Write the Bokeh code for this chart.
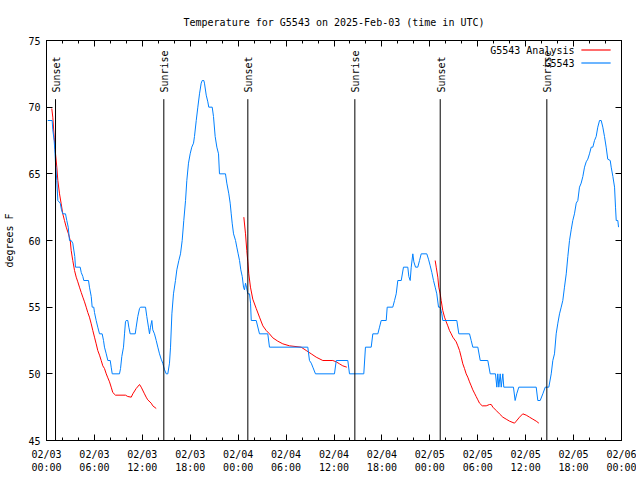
import datetime as dt
from bokeh.plotting import figure
from bokeh.models import (FixedTicker, DatetimeTickFormatter, DatetimeAxis, LinearAxis,
                          Range1d, Label, BoxAnnotation, ColumnDataSource, CustomJSTickFormatter)
from bokeh.core.properties import value
from bokeh.embed import file_html
from bokeh.resources import INLINE

TITLE = "Temperature for G5543 on 2025-Feb-03 (time in UTC)"
START = dt.datetime(2025, 2, 3, 0, 0)
END = dt.datetime(2025, 2, 6, 0, 0)

# Observed temperature (hours after 02/03 00:00 UTC, degrees F)
obs_hours = [0.16, 0.71, 0.79, 0.96, 1.04, 1.13, 1.29, 1.42, 1.72, 1.88, 2.04, 2.38, 2.54, 2.72, 2.88,
             3.09, 3.29, 3.54, 3.63, 4.22, 4.35, 4.55, 4.67, 5.26, 5.38, 5.60, 5.72, 5.92, 6.01, 6.22,
             6.42, 6.64, 6.97, 7.14, 7.26, 7.48, 7.68, 7.98, 8.10, 8.23, 9.14, 9.27, 9.43, 9.64, 9.77,
             9.89, 9.98, 10.18, 10.31, 10.48, 11.11, 11.23, 11.43, 11.65, 11.77, 12.40, 12.56, 12.77,
             12.90, 13.02, 13.19, 13.31, 13.52, 13.74, 13.94, 14.15, 14.36, 14.56, 14.78, 14.99, 15.19,
             15.40, 15.53, 15.70, 15.90, 16.15, 16.32, 16.57, 16.78, 16.99, 17.19, 17.41, 17.57, 17.78,
             17.99, 18.19, 18.41, 18.53, 18.75, 18.95, 19.16, 19.37, 19.50, 19.70, 19.78, 20.00, 20.20,
             20.32, 20.75, 20.91, 21.12, 21.33, 21.54, 21.66, 22.41, 22.58, 22.83, 23.00, 23.13, 23.25,
             23.42, 23.67, 23.83, 24.00, 24.17, 24.33, 24.51, 24.67, 24.79, 24.92, 25.04, 25.21, 25.42,
             25.55, 25.64, 26.26, 26.67, 27.71, 27.92, 32.72, 32.93, 33.15, 33.35, 33.68, 36.06, 36.28,
             37.73, 37.94, 39.73, 39.94, 40.66, 40.86, 41.49, 41.70, 41.91, 42.54, 42.66, 43.36, 43.58,
             43.79, 43.99, 44.42, 44.70, 45.24, 45.37, 45.54, 45.67, 45.87, 46.00, 46.21, 46.49, 46.71,
             46.92, 47.62, 47.83, 48.05, 48.25, 48.46, 48.67, 48.87, 49.09, 49.30, 49.50, 49.62, 51.38,
             51.63, 52.97, 53.18, 53.38, 54.01, 54.31, 55.26, 55.56, 56.22, 56.39, 56.51, 56.64, 56.81,
             56.94, 57.14, 57.26, 58.47, 58.68, 58.88, 59.14, 61.32, 61.52, 61.82, 62.15, 62.45, 62.90,
             63.20, 63.40, 63.61, 63.82, 64.03, 64.24, 64.45, 64.65, 64.86, 65.08, 65.28, 65.49, 65.70,
             65.90, 66.11, 66.33, 66.53, 66.74, 66.95, 67.16, 67.37, 67.58, 67.78, 67.99, 68.21, 68.41,
             68.62, 68.83, 69.03, 69.25, 69.46, 69.66, 69.87, 70.08, 70.28, 70.59, 70.71, 70.92, 71.13,
             71.25, 71.34, 71.54, 71.63]
obs_temp = [69.0, 69.0, 68.3, 67.5, 66.8, 65.8, 64.5, 63.0, 62.8, 62.3, 62.0, 62.0, 61.5, 61.0, 60.0,
            60.0, 59.8, 58.8, 58.0, 58.0, 57.6, 57.3, 57.0, 57.0, 56.5, 55.8, 55.0, 55.0, 54.6, 54.0,
            53.5, 53.0, 53.0, 52.5, 52.0, 51.5, 51.0, 51.0, 50.5, 50.0, 50.0, 50.4, 51.3, 52.0, 53.0,
            53.9, 54.0, 54.0, 53.5, 53.0, 53.0, 53.5, 54.3, 54.9, 55.0, 55.0, 54.3, 53.5,
            53.0, 53.5, 54.0, 53.3, 53.0, 52.5, 52.0, 51.5, 51.1, 50.8, 50.3, 50.0, 50.0,
            50.8, 52.0, 54.5, 56.0, 57.0, 57.8, 58.5, 59.0, 60.0, 61.5, 63.0, 64.5, 65.8,
            66.5, 67.0, 67.3, 67.8, 69.0, 70.0, 71.0, 71.8, 72.0, 72.0, 71.8, 70.9, 70.4,
            70.0, 70.0, 69.3, 67.8, 67.0, 66.5, 65.0, 65.0, 64.3, 63.5, 62.8, 62.0, 61.3,
            60.5, 60.0, 59.5, 59.0, 58.5, 57.8, 57.3, 56.5, 56.3, 56.8, 56.5, 56.0, 56.0,
            55.3, 54.0, 54.0, 53.0, 53.0, 52.0, 52.0, 51.0, 50.8, 50.5, 50.0, 50.0, 51.0,
            51.0, 50.0, 50.0, 52.0, 52.0, 53.0, 53.0, 53.5, 54.0, 54.0, 55.0, 55.0, 55.5,
            56.0, 57.0, 57.0, 58.0, 58.0, 57.3, 57.0, 58.0, 59.0, 58.4, 58.0, 58.0, 58.5,
            59.0, 59.0, 58.6, 58.1, 57.6, 57.0, 56.5, 56.0, 55.0, 55.0, 54.5, 54.0, 54.0,
            53.0, 53.0, 52.5, 52.0, 52.0, 51.0, 51.0, 50.0, 50.0, 49.0, 50.0, 49.0, 50.0,
            49.0, 50.0, 49.0, 49.0, 48.0, 48.5, 49.0, 49.0, 48.0, 48.0, 48.5, 49.0, 49.0,
            50.0, 51.0, 51.5, 53.0, 53.8, 54.5, 55.0, 55.5, 56.5, 57.5, 58.8, 60.0, 60.8,
            61.5, 62.0, 62.8, 63.0, 64.0, 64.3, 64.8, 65.5, 65.9, 66.1, 66.5, 67.0, 67.0,
            67.5, 67.8, 68.5, 69.0, 69.0, 68.5, 67.8, 67.0, 66.1, 66.0, 65.5, 64.8, 64.0,
            62.5, 61.5, 61.5, 61.0]

# Analysis runs (three overnight segments)
ana1_hours = [0.66, 0.79, 0.96, 1.13, 1.29, 1.42, 1.63, 1.84, 2.04, 2.25, 2.47, 2.75, 2.97, 3.09, 3.29,
              3.51, 3.72, 3.92, 4.13, 4.35, 4.55, 4.76, 4.97, 5.17, 5.38, 5.60, 5.80, 6.01, 6.22, 6.42,
              6.64, 6.85, 7.05, 7.26, 7.48, 7.68, 7.89, 8.10, 8.30, 8.64, 9.89, 10.18, 10.61, 10.81,
              11.23, 11.65, 11.86, 12.27, 12.48, 12.68, 13.11, 13.31, 13.74]
ana1_temp = [69.9, 69.25, 67.75, 66.5, 65.5, 64.5, 63.5, 62.75, 62.0, 61.5, 61.0, 60.5, 60.0, 59.25, 58.5,
             57.75, 57.25, 56.9, 56.5, 56.1, 55.75, 55.4, 55.0, 54.6, 54.25, 53.75, 53.25, 52.75, 52.25,
             51.75, 51.4, 51.0, 50.6, 50.4, 50.0, 49.7, 49.4, 49.0, 48.6, 48.4, 48.4, 48.3, 48.25, 48.5,
             48.9, 49.2, 49.0, 48.5, 48.25, 48.05, 47.8, 47.6, 47.4]
ana2_hours = [24.71, 24.92, 25.08, 25.21, 25.33, 25.54, 25.83, 26.26, 26.67, 27.09, 27.51, 27.92, 28.34,
              28.96, 29.59, 30.43, 31.89, 32.52, 33.15, 33.77, 34.60, 35.85, 36.28, 36.69, 37.10, 37.60]
ana2_temp = [61.75, 60.5, 59.25, 58.4, 57.5, 56.5, 55.6, 54.9, 54.25, 53.6, 53.25, 53.0, 52.7,
             52.45, 52.25, 52.1, 52.0, 51.75, 51.5, 51.25, 51.0, 51.0, 50.9, 50.75, 50.6, 50.5]
ana3_hours = [48.67, 48.80, 49.00, 49.12, 49.30, 49.42, 49.62, 49.84, 50.05, 50.25, 50.46, 50.68, 50.88,
              51.30, 51.50, 51.72, 51.93, 52.13, 52.34, 52.55, 52.75, 52.97, 53.18, 53.38, 53.59, 53.80,
              54.01, 54.22, 54.56, 55.06, 55.47, 55.69, 55.89, 56.31, 56.72, 57.14, 57.56, 57.98, 58.60,
              58.82, 59.23, 59.64, 60.07, 60.48, 60.90, 61.32, 61.65]
ana3_temp = [58.5, 58.0, 57.25, 56.5, 56.0, 55.5, 54.75, 54.25, 53.9, 53.6, 53.25, 53.0, 52.75,
             52.4, 52.1, 51.75, 51.25, 50.75, 50.4, 50.0, 49.75, 49.4, 49.1, 48.8, 48.55, 48.3,
             48.05, 47.8, 47.6, 47.6, 47.7, 47.7, 47.5, 47.25, 47.0, 46.75, 46.6, 46.45, 46.3,
             46.45, 46.75, 47.0, 46.9, 46.75, 46.6, 46.45, 46.3]

# Sun events
sun_labels = ["Sunset", "Sunrise", "Sunset", "Sunrise", "Sunset", "Sunrise"]
sun_hours = [1.13, 14.69, 25.21, 38.61, 49.30, 62.65]

y_ticks = [45, 50, 55, 60, 65, 70, 75]
x_tick_step_h = 6
x_minor_step_h = 2

legend_labels = ["G5543 Analysis", "G5543"]

RED = "#ff0000"
BLUE = "#0080ff"
FONT = "DejaVu Sans Mono"
FS = "10px"


def to_time(hours):
    return [START + dt.timedelta(hours=h) for h in hours]


def to_ms(t):
    return (t - dt.datetime(1970, 1, 1)).total_seconds() * 1000.0


total_h = int((END - START).total_seconds() // 3600)
major_ms = [to_ms(START + dt.timedelta(hours=h)) for h in range(0, total_h + 1, x_tick_step_h)]
minor_ms = [to_ms(START + dt.timedelta(hours=h)) for h in range(0, total_h + 1, x_minor_step_h)]
x_ticker = FixedTicker(ticks=major_ms, minor_ticks=minor_ms)
y_ticker = FixedTicker(ticks=y_ticks, minor_ticks=[])

p = figure(width=636, height=476, x_axis_type="datetime",
           x_range=Range1d(START, END), y_range=Range1d(45, 75),
           output_backend="svg", toolbar_location=None, title=TITLE,
           min_border_left=46, min_border_right=15, min_border_top=40, min_border_bottom=36)
p.background_fill_color = "white"
p.border_fill_color = "white"
p.outline_line_color = "black"
p.outline_line_width = 1
p.xgrid.visible = False
p.ygrid.visible = False

p.title.text_font = FONT
p.title.text_font_size = FS
p.title.text_font_style = "normal"
p.title.text_color = "black"
p.title.align = "center"
p.title.standoff = 25

fmt = "%m/%d\n%H:%M"
xfmt = DatetimeTickFormatter(microseconds=fmt, milliseconds=fmt, seconds=fmt, minsec=fmt,
                             minutes=fmt, hourmin=fmt, hours=fmt, days=fmt, months=fmt, years=fmt)
blank_fmt = CustomJSTickFormatter(code="return ''")


def style_axis(ax, major_len=6, minor_len=3):
    ax.axis_line_color = "black"
    ax.major_tick_line_color = "black"
    ax.minor_tick_line_color = "black"
    ax.major_tick_in = major_len
    ax.major_tick_out = 0
    ax.minor_tick_in = minor_len
    ax.minor_tick_out = 0
    ax.major_label_text_font = FONT
    ax.major_label_text_color = "black"
    ax.major_label_text_font_size = FS


xaxis = p.xaxis[0]
xaxis.ticker = x_ticker
xaxis.formatter = xfmt
style_axis(xaxis)
xaxis.major_label_standoff = 8
xaxis.major_label_text_line_height = 1.2

yaxis = p.yaxis[0]
yaxis.ticker = y_ticker
style_axis(yaxis)
yaxis.major_label_standoff = 6
yaxis.axis_label = "degrees F"
yaxis.axis_label_text_font = FONT
yaxis.axis_label_text_font_size = FS
yaxis.axis_label_text_font_style = "normal"
yaxis.axis_label_text_color = "black"
yaxis.axis_label_standoff = 10

# mirrored ticks on top and right, without labels
top_axis = DatetimeAxis(ticker=x_ticker, formatter=blank_fmt)
style_axis(top_axis)
top_axis.major_label_standoff = 0
p.add_layout(top_axis, "above")
right_axis = LinearAxis(ticker=y_ticker, formatter=blank_fmt)
style_axis(right_axis)
right_axis.major_label_standoff = 0
p.add_layout(right_axis, "right")

# Analysis (red) segments
p.multi_line(xs=[to_time(ana1_hours), to_time(ana2_hours), to_time(ana3_hours)],
             ys=[ana1_temp, ana2_temp, ana3_temp], line_color=RED, line_width=1)

# Observations (blue)
p.line(to_time(obs_hours), obs_temp, line_color=BLUE, line_width=1)

# Sun event lines and labels
SUN_LINE_TOP = 70.6
SUN_LABEL_BASE = 71.1
sun_src = ColumnDataSource(dict(t=to_time(sun_hours), lab=sun_labels,
                                y0=[45] * len(sun_hours), y1=[SUN_LINE_TOP] * len(sun_hours),
                                ly=[SUN_LABEL_BASE] * len(sun_hours)))
p.segment(x0="t", y0="y0", x1="t", y1="y1", source=sun_src, line_color="black", line_width=1)
p.text(x="t", y="ly", text="lab", source=sun_src, angle=1.5707963, text_align="left",
       text_baseline="middle", text_font=value(FONT), text_font_size=FS, text_color="black",
       x_offset=1)

# Legend (text left of line sample, like the reference)
colors = [RED, BLUE]
for i, (lab, col) in enumerate(zip(legend_labels, colors)):
    ypos = 390.5 - 13 * i
    p.add_layout(Label(x=528, y=ypos, x_units="screen", y_units="screen", text=lab,
                       text_align="right", text_baseline="middle", text_font=FONT,
                       text_font_size=FS, text_color="black"))
    p.add_layout(BoxAnnotation(left=535, right=564, bottom=ypos - 0.5, top=ypos + 0.5,
                               left_units="screen", right_units="screen",
                               bottom_units="screen", top_units="screen",
                               fill_color=col, fill_alpha=1.0, line_color=col, line_width=0.5))

open("out.html", "w").write(file_html(p, INLINE))
